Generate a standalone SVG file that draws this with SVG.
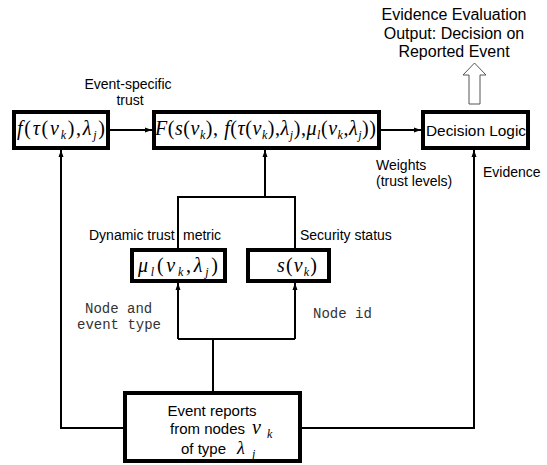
<svg xmlns="http://www.w3.org/2000/svg" width="547" height="465" viewBox="0 0 547 465">
<style>
.box{fill:#fff;stroke:#000;stroke-width:4}
.ln{fill:none;stroke:#000;stroke-width:2}
.t{font-family:"Liberation Sans",Arial,sans-serif;font-size:14px;fill:#000}
.t16{font-family:"Liberation Sans",Arial,sans-serif;font-size:16px;fill:#000}
.mono{font-family:"Liberation Mono","Courier New",monospace;font-size:14px;fill:#333}
.m{font-family:"Liberation Serif","Times New Roman",serif;font-size:20px;fill:#000}
.i{font-style:italic}
.sub{font-style:italic;font-size:12px}
</style>
<defs>
<marker id="ah" markerUnits="userSpaceOnUse" markerWidth="8" markerHeight="6" refX="7" refY="3" orient="auto">
<path d="M0,0.5 L7,3 L0,5.5 z" fill="#000"/>
</marker>
</defs>

<g id="connectors">
<path class="ln" d="M110,130 H152" marker-end="url(#ah)"/>
<path class="ln" d="M381,130 H421" marker-end="url(#ah)"/>
<path class="ln" d="M265,197 V150" marker-end="url(#ah)"/>
<path class="ln" d="M178,248 V197 H295 V248"/>
<path class="ln" d="M213,391 V339"/>
<path class="ln" d="M178,339 H295"/>
<path class="ln" d="M178,339 V283" marker-end="url(#ah)"/>
<path class="ln" d="M295,339 V283" marker-end="url(#ah)"/>
<path class="ln" d="M123,428 H61 V150" marker-end="url(#ah)"/>
<path class="ln" d="M302,428 H474 V150" marker-end="url(#ah)"/>
<polygon points="469,104 469,75 463,75 474.5,63 486,75 480,75 480,104" fill="#fff" stroke="#555" stroke-width="1"/>
</g>

<g id="labels">
<text class="t16" text-anchor="middle"><tspan x="454" y="20">Evidence Evaluation</tspan><tspan x="454" y="39">Output: Decision on</tspan><tspan x="454" y="57">Reported Event</tspan></text>
<text class="t" text-anchor="middle"><tspan x="128" y="89">Event-specific</tspan><tspan x="130" y="105">trust</tspan></text>
<text class="t"><tspan x="376" y="170">Weights</tspan><tspan x="376" y="186">(trust levels)</tspan></text>
<text class="t" x="483" y="177">Evidence</text>
<text class="t" y="240"><tspan x="89">Dynamic trust</tspan><tspan x="183">metric</tspan></text>
<text class="t" x="300" y="240">Security status</text>
<text class="mono"><tspan x="85" y="313">Node and</tspan><tspan x="77" y="329">event type</tspan></text>
<text class="mono" x="313" y="318">Node id</text>
</g>

<g id="node-f">
<rect class="box" x="14" y="112" width="94" height="36"/>
<text class="m" x="17" y="135" textLength="88" lengthAdjust="spacing"><tspan class="i">f</tspan>(<tspan class="i">τ</tspan>(<tspan class="i">v</tspan><tspan class="sub" dy="4">k</tspan><tspan dy="-4">),</tspan><tspan class="i">λ</tspan><tspan class="sub" dy="4">j</tspan><tspan dy="-4">)</tspan></text>
</g>

<g id="node-F">
<rect class="box" x="154" y="112" width="225" height="36"/>
<text class="m" x="155" y="135" textLength="221" lengthAdjust="spacing"><tspan class="i">F</tspan>(<tspan class="i">s</tspan>(<tspan class="i">v</tspan><tspan class="sub" dy="4">k</tspan><tspan dy="-4">), </tspan><tspan class="i">f</tspan>(<tspan class="i">τ</tspan>(<tspan class="i">v</tspan><tspan class="sub" dy="4">k</tspan><tspan dy="-4">),</tspan><tspan class="i">λ</tspan><tspan class="sub" dy="4">j</tspan><tspan dy="-4">),</tspan><tspan class="i">μ</tspan><tspan class="sub" dy="4">l</tspan><tspan dy="-4">(</tspan><tspan class="i">v</tspan><tspan class="sub" dy="4">k</tspan><tspan dy="-4">,</tspan><tspan class="i">λ</tspan><tspan class="sub" dy="4">j</tspan><tspan dy="-4">))</tspan></text>
</g>

<g id="node-decision">
<rect class="box" x="423" y="112" width="105" height="36"/>
<text class="t" style="font-size:15px" x="426" y="136" textLength="100" lengthAdjust="spacingAndGlyphs">Decision Logic</text>
</g>

<g id="node-mu">
<rect class="box" x="132" y="250" width="93" height="31"/>
<text class="m" x="138" y="272" textLength="80" lengthAdjust="spacing"><tspan class="i">μ</tspan><tspan class="sub" dy="4">l</tspan><tspan dy="-4">(</tspan><tspan class="i">v</tspan><tspan class="sub" dy="4">k</tspan><tspan dy="-4">,</tspan><tspan class="i">λ</tspan><tspan class="sub" dy="4">j</tspan><tspan dy="-4">)</tspan></text>
</g>

<g id="node-s">
<rect class="box" x="248" y="250" width="81" height="31"/>
<text class="m" x="277" y="272" textLength="40" lengthAdjust="spacing"><tspan class="i">s</tspan>(<tspan class="i">v</tspan><tspan class="sub" dy="4">k</tspan><tspan dy="-4">)</tspan></text>
</g>

<g id="node-reports">
<rect class="box" x="125" y="393" width="175" height="68"/>
<text class="t" style="font-size:15px" x="212" y="416" text-anchor="middle">Event reports</text>
<text class="t" style="font-size:15px" x="170" y="434">from nodes</text>
<text class="m i" x="252" y="434">v<tspan class="sub" x="267" dy="4">k</tspan></text>
<text class="t" style="font-size:15px" x="181" y="454">of type</text>
<text class="m i" style="font-size:18px" x="237" y="454">λ<tspan class="sub" x="252" dy="4">j</tspan></text>
</g>
</svg>
